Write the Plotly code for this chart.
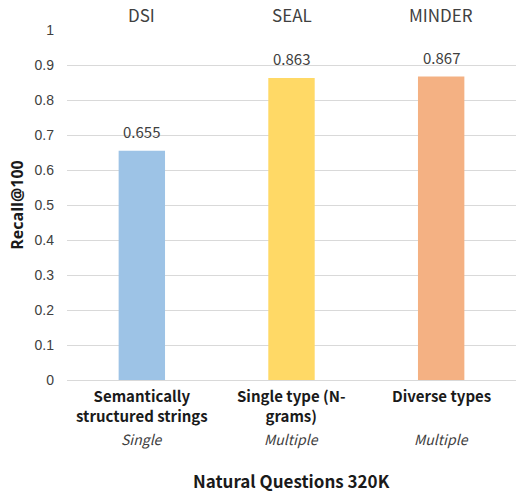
import plotly.graph_objects as go

methods = ["DSI", "SEAL", "MINDER"]
identifier_types = ["Semantically<br>structured strings", "Single type (N-<br>grams)", "Diverse types"]
identifier_counts = ["Single", "Multiple", "Multiple"]
recall_at_100 = [0.655, 0.863, 0.867]
bar_colors = ["#9DC3E6", "#FFD966", "#F4B183"]

FONT = "Noto Sans CJK SC, Open Sans, sans-serif"
TXT = "#404040"

fig = go.Figure(
    go.Bar(
        x=list(range(len(methods))),
        y=recall_at_100,
        width=0.31,
        marker=dict(color=bar_colors, line=dict(width=0)),
        hoverinfo="x+y",
    )
)

annotations = []
for i, m in enumerate(methods):
    # value label above each bar
    annotations.append(dict(x=i, y=recall_at_100[i], xref="x", yref="y", text=f"{recall_at_100[i]:.3f}",
                            showarrow=False, yanchor="bottom", yshift=7,
                            font=dict(family=FONT, size=15, color=TXT)))
    # method name above the plot
    annotations.append(dict(x=i, y=1, xref="x", yref="paper", text=m, showarrow=False,
                            yanchor="bottom", yshift=1,
                            font=dict(family=FONT, size=17, color=TXT)))
    # identifier type under the axis
    annotations.append(dict(x=i, y=0, xref="x", yref="paper", text=f"<b>{identifier_types[i]}</b>",
                            showarrow=False, yanchor="top", yshift=-3,
                            font=dict(family=FONT, size=15, color="#1a1a1a")))
    # single / multiple identifiers
    annotations.append(dict(x=i, y=0, xref="x", yref="paper", text=f"<i>{identifier_counts[i]}</i>",
                            showarrow=False, yanchor="top", yshift=-47,
                            font=dict(family=FONT, size=14, color=TXT)))
annotations.append(dict(x=0.5, y=0, xref="paper", yref="paper", text="<b>Natural Questions 320K</b>",
                        showarrow=False, yanchor="top", yshift=-86,
                        font=dict(family=FONT, size=17, color="#1a1a1a")))

fig.update_layout(
    width=516, height=494,
    margin=dict(l=67, r=0, t=30, b=114),
    plot_bgcolor="white", paper_bgcolor="white",
    showlegend=False,
    annotations=annotations,
    xaxis=dict(range=[-0.5, 2.5], showticklabels=False, showgrid=False, zeroline=False, fixedrange=True),
    yaxis=dict(
        range=[0, 1], dtick=0.1, tickformat="~g",
        showgrid=True, gridcolor="#D9D9D9", gridwidth=1,
        zeroline=True, zerolinecolor="#D9D9D9", zerolinewidth=1,
        ticks="", ticklabelstandoff=12,
        tickfont=dict(family="Liberation Sans, Arial, sans-serif", size=14, color=TXT),
        title=dict(text="<b>Recall@100</b>", standoff=6,
                   font=dict(family="Open Sans, sans-serif", size=16, color="#1a1a1a")),
    ),
)

fig.write_html("out.html")
